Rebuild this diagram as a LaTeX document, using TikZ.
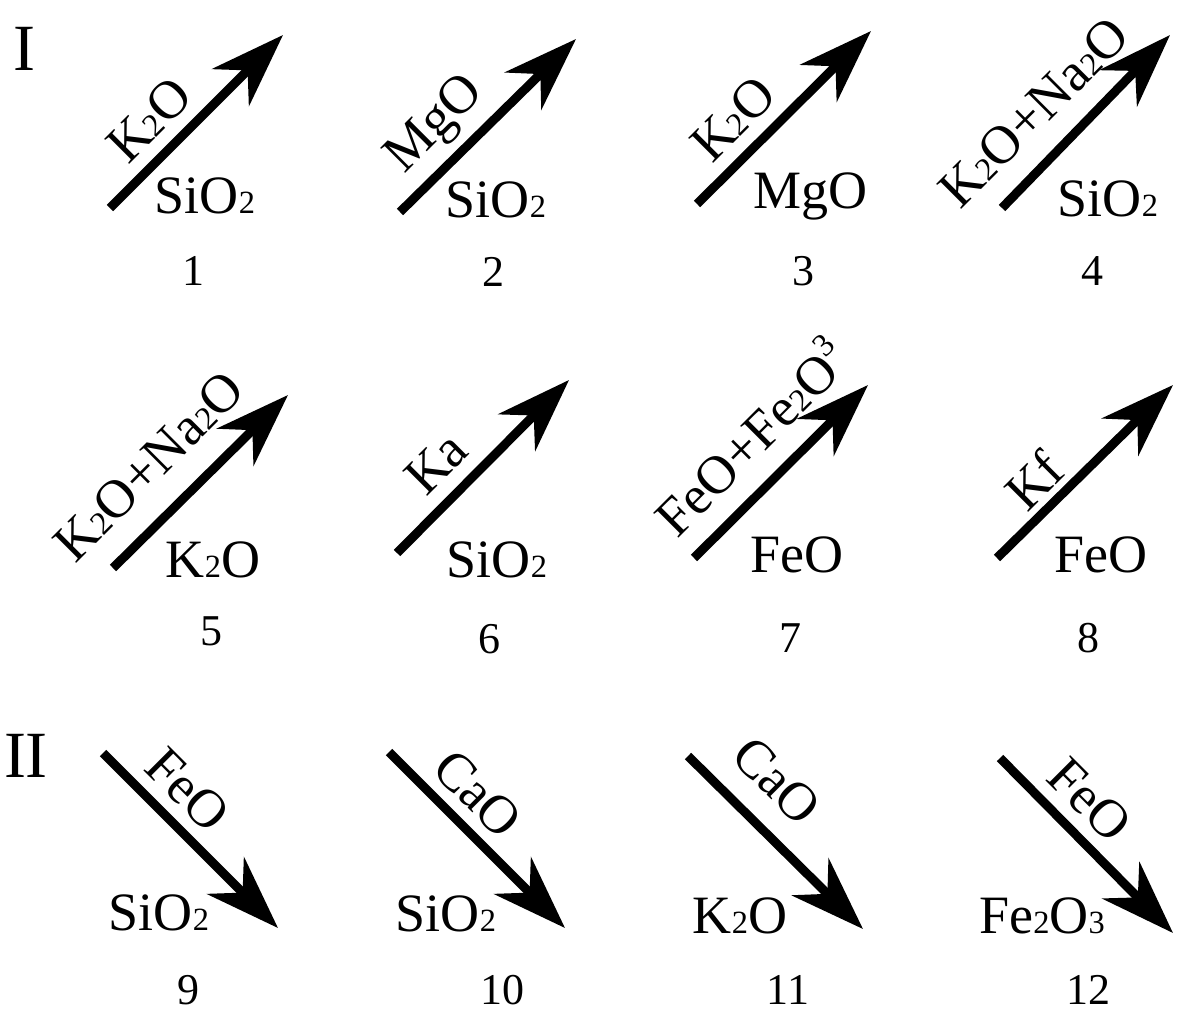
\documentclass[tikz,border=0pt]{standalone}
\usepackage{fontspec}
\setmainfont{Liberation Serif}
\usetikzlibrary{arrows.meta}
\newcommand\chsub[1]{\scalebox{0.6}{#1}}
\newcommand\chsup[1]{\raisebox{0.42em}{\scalebox{0.6}{#1}}}
\begin{document}
\begin{tikzpicture}[x=0.5pt,y=-0.5pt,
  bigarrow/.style={line width=4.5pt,-{Stealth[length=37pt,width=26pt,inset=12pt]}},
  lab/.style={font=\fontsize{27}{30}\selectfont,inner sep=0pt},
  blab/.style={lab,anchor=base},
  num/.style={font=\fontsize{22}{24}\selectfont,inner sep=0pt,anchor=base},
  roman/.style={font=\fontsize{33}{36}\selectfont,inner sep=0pt,anchor=base}]
\useasboundingbox (0,0) rectangle (1177,1012);
% group labels
\node[roman] (gI) at (24,70) {I};
\node[roman] (gII) at (26,777) {II};
% arrow coordinates
\coordinate (t1) at (110,208);  \coordinate (h1) at (283,35);
\coordinate (t2) at (400,212);  \coordinate (h2) at (576,39);
\coordinate (t3) at (697,204);  \coordinate (h3) at (871,31);
\coordinate (t4) at (1002,208); \coordinate (h4) at (1170,35);
\coordinate (t5) at (113,568);  \coordinate (h5) at (288,395);
\coordinate (t6) at (397,553);  \coordinate (h6) at (569,380);
\coordinate (t7) at (694,558);  \coordinate (h7) at (868,385);
\coordinate (t8) at (997,558);  \coordinate (h8) at (1173,385);
\coordinate (t9) at (103,753);  \coordinate (h9) at (278,928);
\coordinate (t10) at (389,752); \coordinate (h10) at (565,928);
\coordinate (t11) at (688,756); \coordinate (h11) at (863,929);
\coordinate (t12) at (1000,758);\coordinate (h12) at (1173,933);
\foreach \i in {1,...,12} {\draw[bigarrow] (t\i) -- (h\i);}
% rotated labels
\node[lab,rotate=45] (a1) at (149,120) {K\chsub{2}O};
\node[lab,rotate=45] (a2) at (436,126) {MgO};
\node[lab,rotate=45] (a3) at (733,119) {K\chsub{2}O};
\node[lab,rotate=45] (a4) at (1034,112) {K\chsub{2}O+Na\chsub{2}O};
\node[lab,rotate=45] (a5) at (149,466) {K\chsub{2}O+Na\chsub{2}O};
\node[lab,rotate=45] (a6) at (436,463) {Ka};
\node[lab,rotate=45] (a7) at (750,436) {FeO+Fe\chsub{2}O\chsup{3}};
\node[lab,rotate=45] (a8) at (1034,480) {Kf};
\node[lab,rotate=-45] (a9) at (188,790) {FeO};
\node[lab,rotate=-45] (a10) at (478,794) {CaO};
\node[lab,rotate=-45] (a11) at (777,781) {CaO};
\node[lab,rotate=-45] (a12) at (1090,800) {FeO};
% bottom labels
\node[blab] (b1) at (205,213) {SiO\chsub{2}};
\node[blab] (b2) at (496,217) {SiO\chsub{2}};
\node[blab] (b3) at (810,208) {MgO};
\node[blab] (b4) at (1108,216) {SiO\chsub{2}};
\node[blab] (b5) at (213,577) {K\chsub{2}O};
\node[blab] (b6) at (497,577) {SiO\chsub{2}};
\node[blab] (b7) at (797,572) {FeO};
\node[blab] (b8) at (1101,572) {FeO};
\node[blab] (b9) at (159,930) {SiO\chsub{2}};
\node[blab] (b10) at (446,931) {SiO\chsub{2}};
\node[blab] (b11) at (740,933) {K\chsub{2}O};
\node[blab] (b12) at (1042,933) {Fe\chsub{2}O\chsub{3}};
% numbers
\node[num] (n1) at (193,285) {1};
\node[num] (n2) at (493,286) {2};
\node[num] (n3) at (803,285) {3};
\node[num] (n4) at (1092,285) {4};
\node[num] (n5) at (211,645) {5};
\node[num] (n6) at (489,653) {6};
\node[num] (n7) at (790,652) {7};
\node[num] (n8) at (1088,652) {8};
\node[num] (n9) at (188,1004) {9};
\node[num] (n10) at (502,1004) {10};
\node[num] (n11) at (788,1004) {11};
\node[num] (n12) at (1088,1004) {12};
\end{tikzpicture}
\end{document}
